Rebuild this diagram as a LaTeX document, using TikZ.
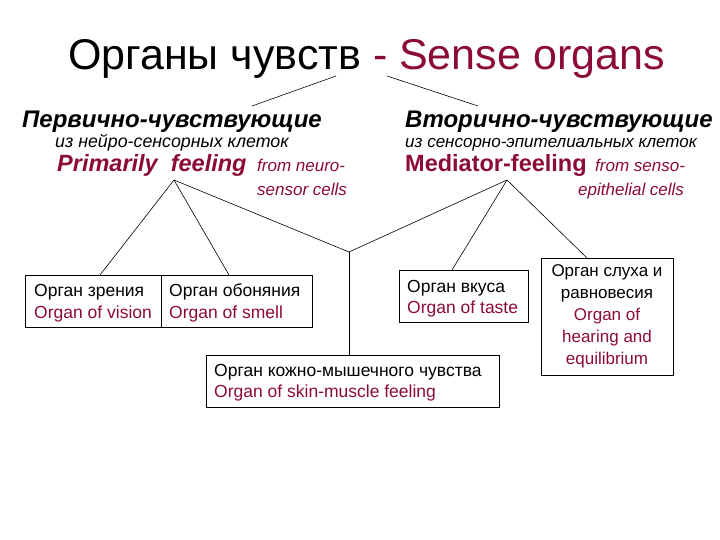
\documentclass[tikz,border=0pt]{standalone}
\usepackage{fontspec}
\setmainfont{Liberation Sans}
\definecolor{dred}{HTML}{8B0A3A}
\begin{document}
\begin{tikzpicture}[x=1pt,y=-1pt,
  txt/.style={anchor=base west,inner sep=0pt},
  box/.style={draw,line width=0.8pt},
  ln/.style={line width=0.6pt},
  bt/.style={txt,font=\fontsize{17.5}{20}\selectfont}]
\useasboundingbox (0,0) rectangle (720,540);
\node[txt,font=\fontsize{43}{46}\selectfont] (title) at (68,70) {Органы чувств \textcolor{dred}{- Sense organs}};
\node[txt,font=\fontsize{24}{27}\selectfont\bfseries\itshape] (h1) at (22,128) {Первично-чувствующие};
\node[txt,font=\fontsize{17.8}{20}\selectfont\itshape] (s1) at (55,148) {из нейро-сенсорных клеток};
\node[txt,font=\fontsize{23.5}{26}\selectfont\bfseries\itshape,text=dred] (p1) at (57,172) {Primarily\ \ feeling};
\node[txt,font=\fontsize{17}{20}\selectfont\itshape,text=dred] (f1) at (257,172) {from neuro-};
\node[txt,font=\fontsize{17}{20}\selectfont\itshape,text=dred] (f1b) at (257,196) {sensor cells};
\node[txt,font=\fontsize{24}{27}\selectfont\bfseries\itshape] (h2) at (405,128) {Вторично-чувствующие};
\node[txt,font=\fontsize{17}{20}\selectfont\itshape] (s2) at (405,148) {из сенсорно-эпителиальных клеток};
\node[txt,font=\fontsize{23.5}{26}\selectfont\bfseries,text=dred] (p2) at (405,172) {Mediator-feeling};
\node[txt,font=\fontsize{17}{20}\selectfont\itshape,text=dred] (f2) at (595,172) {from senso-};
\node[txt,font=\fontsize{17}{20}\selectfont\itshape,text=dred] (f2b) at (578,196) {epithelial cells};
% title connectors
\coordinate (t1) at (336,76); \coordinate (t2) at (387,76);
\coordinate (e1) at (252,106); \coordinate (e2) at (478,106);
\draw[ln] (t1) -- (e1); \draw[ln] (t2) -- (e2);
% boxes
\node[box,minimum width=136,minimum height=52,inner sep=0,anchor=north west] (vis) at (25,275) {};
\node[box,minimum width=151,minimum height=52,inner sep=0,anchor=north west] (sme) at (161,275) {};
\node[box,minimum width=129,minimum height=52,inner sep=0,anchor=north west] (tas) at (399,270) {};
\node[box,minimum width=132,minimum height=117,inner sep=0,anchor=north west] (hea) at (541,258) {};
\node[box,minimum width=293,minimum height=52,inner sep=0,anchor=north west] (ski) at (206,355) {};
\node[bt] at (34,296) {Орган зрения};
\node[bt,text=dred] at (34,318) {Organ of vision};
\node[bt] at (169,296) {Орган обоняния};
\node[bt,text=dred] at (169,318) {Organ of smell};
\node[bt] at (407,292) {Орган вкуса};
\node[bt,text=dred] at (407,313) {Organ of taste};
\node[bt] at (214,376) {Орган кожно-мышечного чувства};
\node[bt,text=dred] at (214,397) {Organ of skin-muscle feeling};
\node[font=\fontsize{17}{22}\selectfont,align=center,anchor=north,inner sep=0] at (607,264) {Орган слуха и\\равновесия\\\textcolor{dred}{Organ of}\\\textcolor{dred}{hearing and}\\\textcolor{dred}{equilibrium}};
% tree connectors
\coordinate (a1) at (174,180); \coordinate (a2) at (507,180); \coordinate (j) at (349,252);
\draw[ln] (a1) -- (vis.north -| 100,0);
\draw[ln] (a1) -- (sme.north -| 229,0);
\draw[ln] (a1) -- (j) -- (a2);
\draw[ln] (j) -- (ski.north -| j);
\draw[ln] (a2) -- (tas.north -| 452,0);
\draw[ln] (a2) -- (hea.north -| 587,0);
\end{tikzpicture}
\end{document}
